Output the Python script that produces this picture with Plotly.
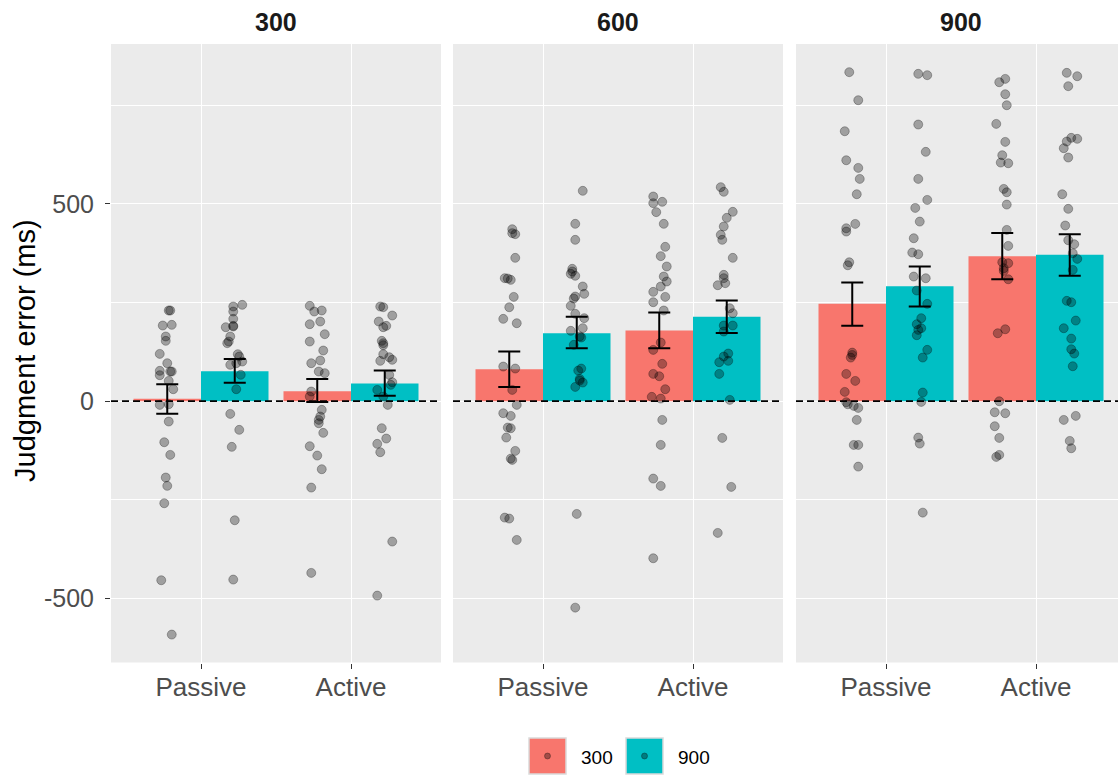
import plotly.graph_objects as go

# ---------------- data ----------------
facets = ["300", "600", "900"]
conditions = ["Passive", "Active"]
groups = ["300", "900"]
group_colors = ["#F8766D", "#00BFC4"]

# bar means and error-bar limits, ordered (facet, condition): 300-P, 300-A, 600-P, 600-A, 900-P, 900-A
mean_g300 = [6, 25, 81, 179, 247, 367]
low_g300 = [-32, -2, 36, 134, 191, 309]
high_g300 = [43, 56, 126, 225, 301, 426]
mean_g900 = [76, 45, 172, 214, 291, 371]
low_g900 = [47, 14, 134, 173, 240, 318]
high_g900 = [107, 78, 214, 255, 341, 423]

# individual participant values (ms) and jitter (category units)
f300_passive_g300 = [229.8, 229.8, 193.4, 191.7, 163.9, 152.9, 119.9, 96.3, 76.9, 75.2, 75.2, 65.9, 51.5, 30.4,
                     -7.6, -9.3, -51.5, -103.9, -136.0, -193.4, -214.5, -258.5, -453.6, -591.3]
jit_f300_passive_g300 = [0.01, 0.02, 0.03, -0.03, -0.01, -0.01, -0.05, 0.0, -0.05, 0.02, 0.03, -0.05, 0.01, 0.04,
                         0.01, -0.05, 0.01, -0.02, 0.02, -0.01, 0.0, -0.02, -0.04, 0.03]
f300_passive_g900 = [244.1, 239.9, 227.2, 208.6, 190.9, 189.2, 187.5, 163.9, 151.2, 147.0, 119.1, 113.2, 100.5,
                     96.3, 92.1, 66.8, 30.4, -32.1, -72.6, -115.7, -301.6, -451.9]
jit_f300_passive_g900 = [0.05, -0.01, -0.01, -0.01, -0.01, -0.01, -0.06, -0.03, -0.04, -0.05, 0.02, 0.03, 0.05,
                         0.01, -0.03, 0.04, 0.01, -0.03, 0.03, -0.02, 0.0, -0.01]
f300_active_g300 = [241.6, 229.8, 227.2, 201.9, 195.1, 169.8, 151.2, 128.4, 103.1, 96.3, 75.2, 71.0, 24.5, 11.8,
                    -21.9, -38.8, -47.3, -55.8, -80.2, -114.0, -137.7, -172.3, -218.8, -435.0]
jit_f300_active_g300 = [-0.05, 0.03, -0.02, 0.02, -0.05, 0.05, -0.05, 0.04, 0.02, -0.04, 0.01, 0.05, -0.04, -0.05,
                        0.03, 0.02, 0.01, 0.01, 0.04, -0.05, 0.0, 0.03, -0.04, -0.04]
f300_active_g900 = [239.9, 238.2, 217.1, 201.9, 190.9, 187.5, 152.9, 147.0, 141.9, 119.1, 111.5, 104.8, 102.2,
                    66.7, 48.1, 41.4, 28.7, 11.8, -9.3, -68.4, -94.6, -108.1, -129.2, -355.6, -492.5]
jit_f300_active_g900 = [-0.03, -0.01, 0.05, -0.04, 0.01, -0.01, -0.02, -0.01, -0.01, -0.01, 0.03, 0.05, -0.03,
                        0.03, 0.05, 0.04, -0.05, -0.01, 0.02, -0.02, 0.01, -0.05, -0.03, 0.05, -0.05]

f600_passive_g300 = [435.8, 425.7, 423.2, 363.2, 311.7, 310.8, 307.4, 264.3, 238.1, 208.6, 197.6, 87.8, 82.7, 28.6,
                     -9.3, -30.4, -37.2, -66.8, -68.5, -92.1, -125.9, -145.4, -148.7, -294.9, -297.4, -351.5]
jit_f600_passive_g300 = [0.02, 0.02, 0.04, 0.04, -0.03, -0.01, 0.01, 0.03, 0.0, -0.04, 0.05, -0.04, 0.04, 0.02,
                         0.05, -0.04, 0.01, -0.01, 0.01, -0.02, 0.04, 0.01, 0.02, -0.03, 0.0, 0.05]
f600_passive_g900 = [533.0, 449.4, 408.8, 335.4, 328.7, 322.8, 317.7, 290.6, 272.0, 265.2, 260.2, 241.6, 221.4,
                     210.4, 185.1, 178.3, 164.0, 161.4, 142.8, 82.7, 77.6, 56.5, 52.3, 47.3, 36.2, -285.6, -523.0]
jit_f600_passive_g900 = [0.04, -0.01, -0.01, -0.03, -0.03, -0.04, -0.01, 0.04, 0.05, -0.01, -0.02, -0.04, -0.01,
                         0.05, 0.04, -0.04, 0.02, 0.03, -0.02, 0.03, 0.01, 0.02, 0.02, 0.04, -0.01, 0.0, -0.01]
f600_active_g300 = [518.6, 505.1, 501.7, 479.0, 449.4, 391.1, 367.5, 341.3, 315.9, 303.3, 290.6, 277.0, 264.3,
                    250.8, 229.8, 148.6, 130.0, 94.6, 69.2, 63.3, 30.4, 11.0, 6.7, -47.4, -110.7, -196.0, -214.6,
                    -397.9]
jit_f600_active_g300 = [-0.04, 0.02, -0.04, -0.02, 0.03, 0.04, 0.01, 0.05, 0.03, 0.05, 0.01, -0.04, 0.04, -0.04,
                        0.03, 0.01, -0.04, 0.02, -0.04, 0.0, 0.04, -0.05, 0.01, 0.02, 0.01, -0.04, 0.01, -0.04]
f600_active_g900 = [542.3, 530.5, 479.8, 464.6, 442.6, 421.5, 408.8, 363.2, 320.1, 311.7, 299.0, 293.9, 235.6,
                    222.9, 191.7, 191.7, 176.5, 120.8, 113.2, 102.2, 98.8, 69.2, 3.3, -93.0, -217.1, -333.7]
jit_f600_active_g900 = [-0.04, -0.02, 0.04, 0.0, -0.02, -0.04, -0.03, 0.04, -0.02, -0.02, -0.01, -0.06, 0.02,
                        0.04, -0.02, 0.04, -0.02, 0.01, -0.02, 0.01, -0.05, -0.05, 0.02, -0.03, 0.03, -0.06]

f900_passive_g300 = [833.6, 762.6, 684.0, 610.5, 591.1, 563.2, 524.4, 449.2, 438.2, 429.8, 352.0, 344.4, 123.1,
                     117.2, 110.5, 69.1, 51.4, 23.6, -2.6, -7.7, -11.9, -17.0, -47.4, -110.8, -110.8, -165.7]
jit_f900_passive_g300 = [-0.02, 0.04, -0.05, -0.04, 0.04, 0.05, 0.03, 0.02, -0.04, -0.04, -0.02, -0.03, 0.0,
                         0.0, -0.01, -0.04, 0.02, -0.05, -0.04, -0.03, 0.01, 0.04, 0.03, 0.01, 0.04, 0.04]
f900_passive_g900 = [829.4, 826.0, 701.0, 631.7, 563.2, 510.0, 489.7, 455.1, 412.9, 376.6, 372.4, 315.8, 311.6,
                     280.4, 246.6, 210.3, 195.1, 185.0, 180.7, 167.2, 130.1, 110.6, 21.9, -1.8, -92.2, -107.4,
                     -282.3]
jit_f900_passive_g900 = [-0.01, 0.05, -0.01, 0.04, -0.01, 0.05, -0.03, 0.0, -0.04, -0.05, -0.01, -0.04, 0.04,
                         -0.02, 0.05, 0.01, -0.02, 0.01, -0.01, -0.02, 0.05, 0.02, 0.02, 0.01, -0.01, 0.0, 0.02]
f900_active_g300 = [816.6, 808.2, 777.8, 749.9, 702.6, 657.0, 623.2, 604.6, 602.9, 537.9, 529.4, 498.2, 434.0,
                    393.5, 352.1, 349.6, 336.9, 330.1, 309.0, 182.3, 172.2, -0.1, -28.0, -30.5, -63.4, -93.0,
                    -136.1, -141.1]
jit_f900_active_g300 = [0.02, -0.02, 0.02, 0.03, -0.04, 0.02, 0.0, -0.01, 0.04, 0.01, 0.03, 0.03, 0.03, 0.04,
                        0.0, 0.04, 0.01, 0.01, 0.04, 0.02, -0.03, -0.02, -0.05, 0.02, -0.05, -0.02, -0.02, -0.04]
f900_active_g900 = [831.9, 823.4, 798.1, 667.2, 664.7, 657.9, 641.0, 617.4, 524.4, 487.3, 445.1, 407.9, 397.8,
                    375.0, 360.6, 332.7, 254.2, 250.8, 204.3, 184.9, 158.7, 131.7, 120.7, 88.6, -37.2, -47.4,
                    -100.6, -119.2]
jit_f900_active_g900 = [-0.02, 0.05, -0.01, 0.01, 0.05, -0.02, -0.04, -0.01, -0.05, -0.01, -0.03, -0.01, 0.03,
                        0.02, 0.05, 0.02, -0.02, 0.01, 0.04, -0.04, 0.01, 0.01, 0.03, 0.02, 0.04, -0.04, 0.0, 0.01]

y_tick_values = [-500, 0, 500]
y_minor_values = [-250, 250, 750]

points = {
    ("300", "Passive", "300"): (f300_passive_g300, jit_f300_passive_g300),
    ("300", "Passive", "900"): (f300_passive_g900, jit_f300_passive_g900),
    ("300", "Active", "300"): (f300_active_g300, jit_f300_active_g300),
    ("300", "Active", "900"): (f300_active_g900, jit_f300_active_g900),
    ("600", "Passive", "300"): (f600_passive_g300, jit_f600_passive_g300),
    ("600", "Passive", "900"): (f600_passive_g900, jit_f600_passive_g900),
    ("600", "Active", "300"): (f600_active_g300, jit_f600_active_g300),
    ("600", "Active", "900"): (f600_active_g900, jit_f600_active_g900),
    ("900", "Passive", "300"): (f900_passive_g300, jit_f900_passive_g300),
    ("900", "Passive", "900"): (f900_passive_g900, jit_f900_passive_g900),
    ("900", "Active", "300"): (f900_active_g300, jit_f900_active_g300),
    ("900", "Active", "900"): (f900_active_g900, jit_f900_active_g900),
}
stats = {
    "300": (mean_g300, low_g300, high_g300),
    "900": (mean_g900, low_g900, high_g900),
}

# ---------------- layout geometry ----------------
W, H = 1118, 775
FONT = "Liberation Sans, Arial, sans-serif"
panel_px = [(111, 441), (453, 783), (796, 1118)]
px_per_unit = 150.0
x_ranges = [(0.4, 0.4 + (b - a) / px_per_unit) for a, b in panel_px]
y_dom = [1 - 662.5 / H, 1 - 44 / H]
y_range = [-662, 905]
dodge = 0.225
bar_w = 0.45

fig = go.Figure()

for fi, facet in enumerate(facets):
    xa = "x" if fi == 0 else f"x{fi + 1}"
    ya = "y" if fi == 0 else f"y{fi + 1}"
    # bars
    for gi, g in enumerate(groups):
        off = -dodge if gi == 0 else dodge
        means, lows, highs = stats[g]
        m = [means[fi * 2 + ci] for ci in range(2)]
        fig.add_trace(go.Bar(
            x=[ci + 1 + off for ci in range(2)], y=m, width=bar_w,
            marker=dict(color=group_colors[gi], line=dict(width=0)),
            xaxis=xa, yaxis=ya, showlegend=False, hoverinfo="skip"))
    # points
    for gi, g in enumerate(groups):
        off = -dodge if gi == 0 else dodge
        for ci, c in enumerate(conditions):
            vals, jit = points[(facet, c, g)]
            fig.add_trace(go.Scatter(
                x=[ci + 1 + off + j for j in jit], y=vals, mode="markers",
                marker=dict(size=9, color="rgba(0,0,0,0.32)",
                            line=dict(color="rgba(0,0,0,0.28)", width=1)),
                xaxis=xa, yaxis=ya, showlegend=False, hoverinfo="skip"))
    # error bars
    for gi, g in enumerate(groups):
        off = -dodge if gi == 0 else dodge
        means, lows, highs = stats[g]
        m = [means[fi * 2 + ci] for ci in range(2)]
        lo = [lows[fi * 2 + ci] for ci in range(2)]
        hi = [highs[fi * 2 + ci] for ci in range(2)]
        fig.add_trace(go.Scatter(
            x=[ci + 1 + off for ci in range(2)], y=m, mode="markers",
            marker=dict(size=1, opacity=0),
            error_y=dict(type="data", symmetric=False,
                         array=[h - v for h, v in zip(hi, m)],
                         arrayminus=[v - l for v, l in zip(m, lo)],
                         color="black", thickness=2, width=11),
            xaxis=xa, yaxis=ya, showlegend=False, hoverinfo="skip"))

    a, b = panel_px[fi]
    xkey = "xaxis" if fi == 0 else f"xaxis{fi + 1}"
    ykey = "yaxis" if fi == 0 else f"yaxis{fi + 1}"
    fig.layout[xkey] = dict(
        domain=[a / W, b / W], range=list(x_ranges[fi]), anchor=ya,
        tickvals=[1, 2], ticktext=conditions, ticks="outside", ticklen=5,
        tickwidth=1.1, tickcolor="#333333", showgrid=True, gridcolor="white",
        gridwidth=1.4, zeroline=False, showline=False,
        tickfont=dict(family=FONT, size=26, color="#4D4D4D"), ticklabelstandoff=-4)
    fig.layout[ykey] = dict(
        domain=y_dom, range=y_range, anchor=xa,
        tickvals=y_tick_values, ticktext=[str(v) if v >= 0 else "-" + str(-v) for v in y_tick_values],
        ticks="outside" if fi == 0 else "", ticklen=5, tickwidth=1.1, tickcolor="#333333",
        showticklabels=(fi == 0), showgrid=True, gridcolor="white", gridwidth=1.4,
        zeroline=False, showline=False,
        minor=dict(tickvals=y_minor_values, showgrid=True, gridcolor="white", gridwidth=0.7, ticks=""),
        tickfont=dict(family=FONT, size=25, color="#4D4D4D"), ticklabelstandoff=6)
    # dashed zero line
    fig.add_shape(type="line", xref=f"{xa} domain", yref=ya, x0=0, x1=1, y0=0, y1=0,
                  line=dict(color="black", width=1.8, dash="7px,4px"))
    # strip label (centre of the full, uncropped panel)
    full_center = a + 1.1 * px_per_unit
    fig.add_annotation(x=full_center / W, y=1 - 22 / H, xref="paper", yref="paper",
                       text=f"<b>{facet}</b>", showarrow=False, xanchor="center", yanchor="middle",
                       font=dict(family=FONT, size=25, color="#1A1A1A"))

# y axis title
fig.add_annotation(x=25 / W, y=1 - 351 / H, xref="paper", yref="paper", text="Judgment error (ms)",
                   textangle=-90, showarrow=False, xanchor="center", yanchor="middle",
                   font=dict(family=FONT, size=29, color="black"))

# legend (bottom, manual)
key_x = [529, 626]
label_x = [579, 676]
for gi, g in enumerate(groups):
    x0 = key_x[gi]
    fig.add_shape(type="rect", xref="paper", yref="paper",
                  x0=x0 / W, x1=(x0 + 37) / W, y0=1 - 774 / H, y1=1 - 738 / H,
                  fillcolor=group_colors[gi], line=dict(color="#DADADA", width=1.5), layer="above")
    cx, cy = x0 + 18.5, 756
    fig.add_shape(type="circle", xref="paper", yref="paper",
                  x0=(cx - 3) / W, x1=(cx + 3) / W, y0=1 - (cy + 3) / H, y1=1 - (cy - 3) / H,
                  fillcolor="rgba(0,0,0,0.35)", line=dict(color="rgba(0,0,0,0.3)", width=1), layer="above")
    fig.add_annotation(x=label_x[gi] / W, y=1 - 757 / H, xref="paper", yref="paper", text=g,
                       showarrow=False, xanchor="left", yanchor="middle",
                       font=dict(family=FONT, size=19, color="black"))

fig.update_layout(
    width=W, height=H, margin=dict(l=0, r=0, t=0, b=0),
    paper_bgcolor="white", plot_bgcolor="#EBEBEB", barmode="overlay",
    showlegend=False, font=dict(family=FONT),
)

fig.write_html("out.html")
